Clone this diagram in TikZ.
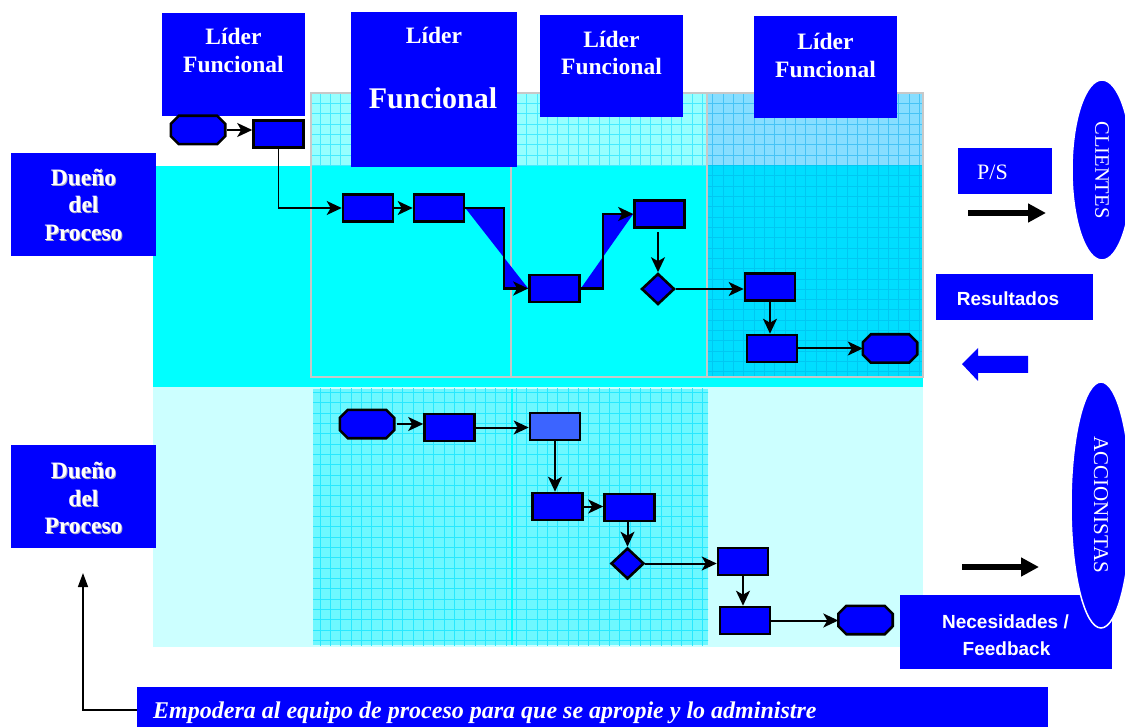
\documentclass[tikz,border=0pt]{standalone}
\usepackage{fontspec}
\setmainfont{Liberation Serif}
\setsansfont{Liberation Sans}
\usetikzlibrary{arrows.meta,shapes.geometric,calc}

\definecolor{procblue}{RGB}{0,0,255}
\definecolor{lightproc}{RGB}{60,100,255}
\definecolor{laneA}{RGB}{0,255,255}
\definecolor{laneB}{RGB}{204,255,255}
\definecolor{gridbgL}{RGB}{110,248,255}
\definecolor{gridlnL}{RGB}{40,232,255}
\definecolor{gridbgT}{RGB}{150,255,255}
\definecolor{gridlnT}{RGB}{70,235,255}
\definecolor{gridbgR}{RGB}{135,222,255}
\definecolor{gridlnR}{RGB}{70,195,245}
\definecolor{gridbgD}{RGB}{0,222,255}
\definecolor{gridlnD}{RGB}{0,200,242}
\definecolor{framegray}{RGB}{200,200,200}
\definecolor{shadowgray}{RGB}{170,170,200}

% white text with a soft grey drop shadow
\newcommand{\shadowed}[1]{\makebox[0pt][l]{\hspace{1pt}\raisebox{-1pt}{\textcolor{shadowgray}{#1}}}#1}

\begin{document}
\begin{tikzpicture}[x=1pt,y=-1pt,
  box/.style={rectangle, fill=procblue, inner sep=0pt},
  proc/.style={rectangle, draw=black, line width=2.6pt, fill=procblue,
    minimum width=50pt, minimum height=27pt, inner sep=0pt},
  term/.style={rectangle, minimum width=54pt, minimum height=28pt, inner sep=0pt},
  octo/.style={draw=black, line width=2.6pt, fill=procblue},
  dec/.style={diamond, draw=black, line width=2.6pt, fill=procblue,
    minimum width=33pt, minimum height=31pt, inner sep=0pt},
  flow/.style={draw=black, line width=2pt, -{Stealth[length=15pt,width=14pt,inset=4pt]}},
  barrow/.style={draw=black, line width=5.5pt, -{Triangle[length=18pt,width=18pt]}},
  gridlines/.style={line width=0.8pt},
  lbl/.style={text=white, inner sep=0pt, anchor=base},
  hfont/.style={font=\fontsize{23.5}{28}\selectfont\bfseries},
  bigfont/.style={font=\fontsize{30}{34}\selectfont\bfseries},
  sfont/.style={font=\sffamily\fontsize{19}{23}\selectfont\bfseries},
]
\useasboundingbox (0,0) rectangle (1125,727);

% ---- swimlane backgrounds ----
\fill[laneA] (153,166) rectangle (923,387);
\fill[laneB] (153,387) rectangle (923,647);

% lower lane grid
\begin{scope}
  \clip (313,389) rectangle (708,645);
  \fill[gridbgL] (313,389) rectangle (708,645);
  \draw[gridlnL, gridlines, step=10.33pt] (300,650) grid (720,380);
\end{scope}
\draw[laneA, line width=2.5pt] (512,389) -- (512,645);

% upper framed area grids
\begin{scope}
  \clip (311,93) rectangle (707,166);
  \fill[gridbgT] (311,93) rectangle (707,166);
  \draw[gridlnT, gridlines, step=10.33pt] (300,170) grid (710,90);
\end{scope}
\begin{scope}
  \clip (707,93) rectangle (923,166);
  \fill[gridbgR] (707,93) rectangle (923,166);
  \draw[gridlnR, gridlines, step=10.33pt] (700,170) grid (930,90);
\end{scope}
\begin{scope}
  \clip (707,166) rectangle (923,377);
  \fill[gridbgD] (707,166) rectangle (923,377);
  \draw[gridlnD, gridlines, step=10.33pt] (700,380) grid (930,160);
\end{scope}
\draw[framegray, line width=2.5pt] (311,93) rectangle (923,377);
\draw[framegray, line width=2.5pt] (511,166) -- (511,377);
\draw[framegray, line width=2.5pt] (707,93) -- (707,377);

% ---- functional leaders ----
\node[box, minimum width=143pt, minimum height=103pt] (LF1) at (233.5,64.5) {};
\node[lbl, hfont] (LF1a) at (233.5,45) {Líder};
\node[lbl, hfont] (LF1b) at (233.5,73) {Funcional};

\node[box, minimum width=166pt, minimum height=155pt] (LF2) at (434,89.5) {};
\node[lbl, hfont] (LF2a) at (434,44) {Líder};
\node[lbl, bigfont] (LF2b) at (433,109) {Funcional};

\node[box, minimum width=143pt, minimum height=102pt] (LF3) at (611.5,66) {};
\node[lbl, hfont] (LF3a) at (611.5,48) {Líder};
\node[lbl, hfont] (LF3b) at (611.5,75) {Funcional};

\node[box, minimum width=143pt, minimum height=102pt] (LF4) at (825.5,67) {};
\node[lbl, hfont] (LF4a) at (825.5,50) {Líder};
\node[lbl, hfont] (LF4b) at (825.5,78) {Funcional};

% ---- process owners ----
\node[box, minimum width=145pt, minimum height=103pt] (DP1) at (83.5,204.5) {};
\node[lbl, hfont] (DP1a) at (83.5,186) {\shadowed{Dueño}};
\node[lbl, hfont] (DP1b) at (83.5,213) {\shadowed{del}};
\node[lbl, hfont] (DP1c) at (83.5,241) {\shadowed{Proceso}};

\node[box, minimum width=145pt, minimum height=103pt] (DP2) at (83.5,496.5) {};
\node[lbl, hfont] (DP2a) at (83.5,478) {\shadowed{Dueño}};
\node[lbl, hfont] (DP2b) at (83.5,506) {\shadowed{del}};
\node[lbl, hfont] (DP2c) at (83.5,533) {\shadowed{Proceso}};

% ---- upper process flow ----
\node[term] (T1) at (198,130) {};
\node[proc] (A1) at (278.5,134) {};
\node[proc] (B1) at (368,208) {};
\node[proc] (B2) at (439,208) {};
\node[proc] (C1) at (554.5,288.5) {};
\node[proc] (C2) at (659.5,214) {};
\node[dec]  (D1) at (658,289) {};
\node[proc] (E1) at (770,287) {};
\node[proc] (E2) at (772,348.5) {};
\node[term] (T2) at (890,348.5) {};

% ---- lower process flow ----
\node[term] (T3) at (367,424) {};
\node[proc] (F1) at (449.5,427.5) {};
\node[proc, fill=lightproc] (F2) at (555,426.5) {};
\node[proc] (G1) at (557.5,506.5) {};
\node[proc] (G2) at (629.5,507.5) {};
\node[dec]  (D2) at (627.5,563.5) {};
\node[proc] (H1) at (743,561.5) {};
\node[proc] (H2) at (745,620.5) {};
\node[term] (T4) at (865.5,620) {};

% start / end terminators as octagons
\foreach \t in {T1,T2,T3,T4}{
  \draw[octo] ($(\t.north west)+(8,0)$) -- ($(\t.north east)+(-8,0)$)
    -- ($(\t.north east)+(0,8)$) -- ($(\t.south east)+(0,-8)$)
    -- ($(\t.south east)+(-8,0)$) -- ($(\t.south west)+(8,0)$)
    -- ($(\t.south west)+(0,-8)$) -- ($(\t.north west)+(0,8)$) -- cycle;
}

% elbow connectors with their filled wedges
\coordinate (k1) at (504,0);
\coordinate (k2) at (603,0);
\fill[procblue] (B2.east) -- (B2.east -| k1) -- (C1.west -| k1) -- (C1.west) -- cycle;
\fill[procblue] (C1.east) -- (C1.east -| k2) -- (C2.west -| k2) -- (C2.west) -- cycle;

% connectors, upper lane
\draw[flow, shorten <=2pt] (T1.east) -- (T1.east -| A1.west);
\draw[flow, line width=1.6pt] (A1.south) |- (B1.west);
\draw[flow] (B1.east) -- (B2.west);
\draw[flow, line width=2.6pt, line join=miter] (B2.east) -- (B2.east -| k1) -- (C1.west -| k1) -- (C1.west);
\draw[flow, line width=2.6pt, line join=miter] (C1.east) -- (C1.east -| k2) -- (C2.west -| k2) -- (C2.west);
\draw[flow, shorten <=3pt] (D1.north |- C2.south) -- (D1.north);
\draw[flow] (D1.east) -- (D1.east -| E1.west);
\draw[flow] (E1.south) -- (E1.south |- E2.north);
\draw[flow] (E2.east) -- (E2.east -| T2.west);

% connectors, lower lane
\draw[flow, shorten <=3pt] (T3.east) -- (T3.east -| F1.west);
\draw[flow] (F1.east) -- (F1.east -| F2.west);
\draw[flow] (F2.south) -- (F2.south |- G1.north);
\draw[flow] (G1.east) -- (G1.east -| G2.west);
\draw[flow] (D2.north |- G2.south) -- (D2.north);
\draw[flow] (D2.east) -- (D2.east -| H1.west);
\draw[flow] (H1.south) -- (H1.south |- H2.north);
\draw[flow] (H2.east) -- (H2.east -| T4.west);

% ---- customers side ----
\node[box, minimum width=94pt, minimum height=46pt] (PS) at (1005,171) {};
\node[lbl, anchor=base west, font=\fontsize{22}{26}\selectfont] (PSt) at (977,180) {P/S};
\coordinate (ps1) at (968,213);
\coordinate (ps2) at (1046,213);
\draw[barrow] (ps1) -- (ps2);

\node[ellipse, rotate=-90, fill=procblue, draw=white, line width=1.5pt,
  minimum width=180pt, minimum height=60pt, inner sep=0pt, text=white,
  font=\fontsize{20.5}{24}\selectfont] (CLI) at (1102,170) {CLIENTES};

\node[box, minimum width=157pt, minimum height=46pt] (RES) at (1014.5,297) {};
\node[lbl, sfont] (RESt) at (1008,306) {Resultados};

\fill[procblue] (962,364) -- (978,348) -- (978,356) -- (1028,356)
  -- (1028,373) -- (978,373) -- (978,381) -- cycle;

% ---- shareholders side ----
\coordinate (ac1) at (962,567);
\coordinate (ac2) at (1039,567);
\draw[barrow] (ac1) -- (ac2);

\node[box, minimum width=212pt, minimum height=74pt] (NEC) at (1006,632) {};
\node[lbl, sfont] (NECa) at (1005.5,628) {Necesidades /};
\node[lbl, sfont] (NECb) at (1006.5,655) {Feedback};

\node[ellipse, rotate=-90, fill=procblue, draw=white, line width=1.5pt,
  minimum width=246pt, minimum height=60pt, inner sep=0pt, text=white,
  font=\fontsize{21}{25}\selectfont] (ACC) at (1101,505) {ACCIONISTAS};

% ---- empowerment banner ----
\node[box, minimum width=911pt, minimum height=40pt] (EMP) at (592.5,707) {};
\node[lbl, anchor=base west, font=\fontsize{24}{28}\selectfont\bfseries\itshape] (EMPt)
  at (153,718) {Empodera al equipo de proceso para que se apropie y lo administre};
\coordinate (up) at (83,573);
\draw[black, line width=1.5pt, -{Triangle[length=14pt,width=10pt]}]
  ([yshift=-3pt]EMP.west) -- ([yshift=-3pt]EMP.west -| up) -- (up);

\end{tikzpicture}
\end{document}
